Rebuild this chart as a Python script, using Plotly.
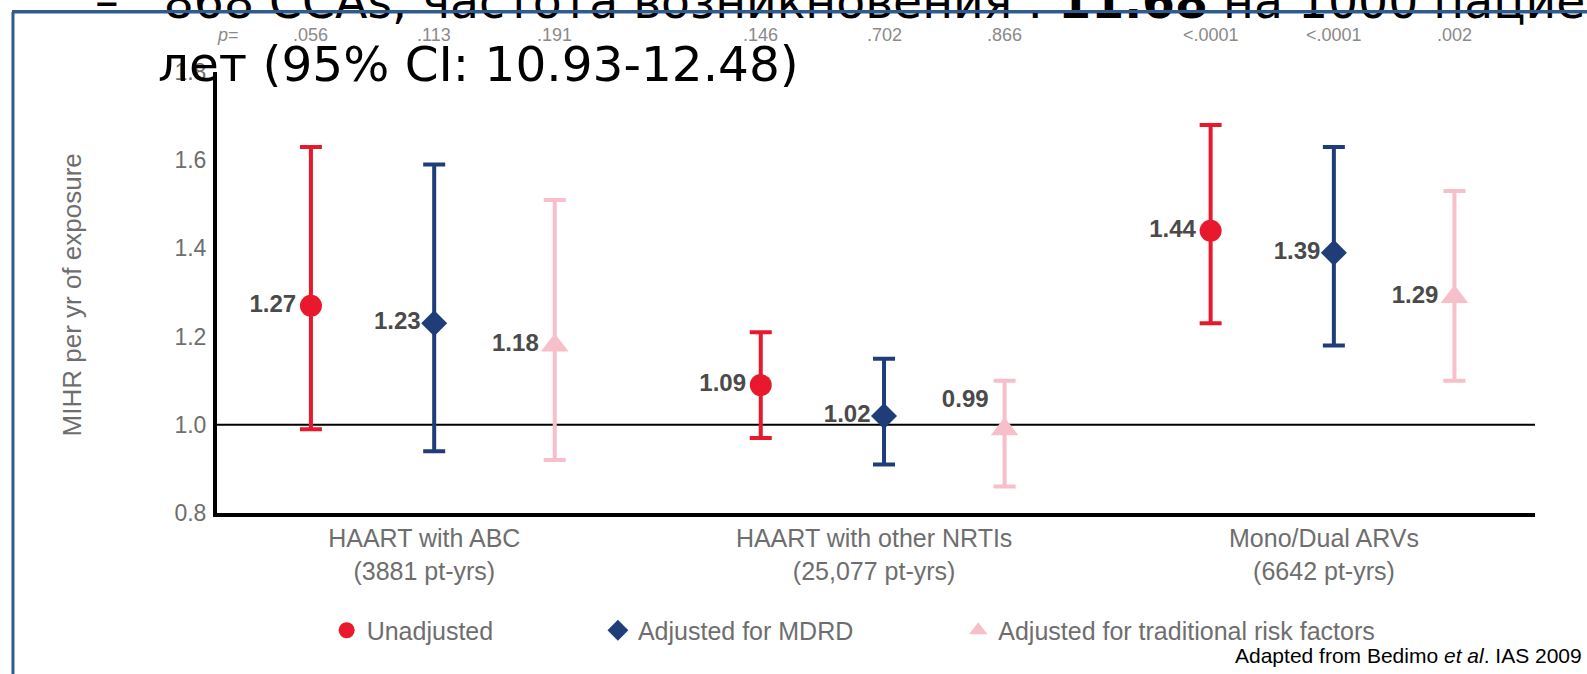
import plotly.graph_objects as go

# ---------------- data ----------------
categories = ["HAART with ABC<br>(3881 pt-yrs)",
              "HAART with other NRTIs<br>(25,077 pt-yrs)",
              "Mono/Dual ARVs<br>(6642 pt-yrs)"]
series_names = ["Unadjusted", "Adjusted for MDRD", "Adjusted for traditional risk factors"]
unadjusted = [1.27, 1.09, 1.44]
unadjusted_hi = [1.63, 1.21, 1.68]
unadjusted_lo = [0.99, 0.97, 1.23]
mdrd = [1.23, 1.02, 1.39]
mdrd_hi = [1.59, 1.15, 1.63]
mdrd_lo = [0.94, 0.91, 1.18]
trad = [1.18, 0.99, 1.29]
trad_hi = [1.51, 1.10, 1.53]
trad_lo = [0.92, 0.86, 1.10]
p_unadjusted = [".056", ".146", "<.0001"]
p_mdrd = [".113", ".702", "<.0001"]
p_trad = [".191", ".866", ".002"]
y_ticks = [0.8, 1.0, 1.2, 1.4, 1.6, 1.8]

# ---------------- style ----------------
RED = "#E8192C"
NAVY = "#1F3D78"
PINK = "#F7BFCA"
LABEL = "#4A4A4A"
GRAY = "#6E6E6E"
PGRAY = "#8A8A8A"
FONT = "Liberation Sans, Arial, sans-serif"
offsets = [-0.274, 0.0, 0.268]
x_base = list(range(len(categories)))

fig = go.Figure()

specs = [
    (series_names[0], unadjusted, unadjusted_hi, unadjusted_lo, RED, "circle", 22, offsets[0], "legend"),
    (series_names[1], mdrd, mdrd_hi, mdrd_lo, NAVY, "diamond", 20, offsets[1], "legend2"),
    (series_names[2], trad, trad_hi, trad_lo, PINK, "triangle-up", 24, offsets[2], "legend3"),
]
for name, vals, hi, lo, col, sym, size, off, leg in specs:
    xs = [b + off for b in x_base]
    tpos = ["middle left"] * len(vals)
    if leg == "legend3":
        tpos[1] = "top left"
    fig.add_trace(go.Scatter(
        x=xs, y=vals, mode="markers+text", name=name, legend=leg, showlegend=True,
        text=[f"{v:.2f}" for v in vals], textposition=tpos,
        textfont=dict(family=FONT, size=24, color=LABEL, weight="bold"),
        marker=dict(color=col, symbol=sym, size=size, line=dict(width=0)),
        error_y=dict(type="data", symmetric=False,
                     array=[h - v for h, v in zip(hi, vals)],
                     arrayminus=[v - l for v, l in zip(vals, lo)],
                     color=col, thickness=4, width=11),
        cliponaxis=False,
    ))

# p-values row
p_sets = [(p_unadjusted, offsets[0]), (p_mdrd, offsets[1]), (p_trad, offsets[2])]
for plist, off in p_sets:
    for b, ptxt in zip(x_base, plist):
        fig.add_annotation(x=b + off, y=1.083, xref="x", yref="paper", text=ptxt,
                           xanchor="center", yanchor="middle", showarrow=False,
                           font=dict(family=FONT, size=18, color=PGRAY))
fig.add_annotation(x=-0.459, y=1.083, xref="x", yref="paper", text="<i>p</i>=",
                   xanchor="center", yanchor="middle", showarrow=False,
                   font=dict(family=FONT, size=18, color=PGRAY))

# reference line at 1.0
fig.add_shape(type="line", xref="paper", yref="y", x0=0, x1=1, y0=1.0, y1=1.0,
              line=dict(color="black", width=2), layer="below")

# slide frame
FRAME = "#2F5B8F"
fig.add_shape(type="line", xref="paper", yref="paper", x0=-0.1548, x1=-0.1548,
              y0=1.1361, y1=-0.40, line=dict(color=FRAME, width=3), layer="above")
fig.add_shape(type="line", xref="paper", yref="paper", x0=-0.1548, x1=1.06,
              y0=1.1361, y1=1.1361, line=dict(color=FRAME, width=3), layer="above")

# slide text (Russian overlay)
RU_FONT = "DejaVu Sans, sans-serif"
fig.add_annotation(x=-0.0941, y=1.093, xref="paper", yref="paper", xanchor="left", yanchor="bottom",
                   text="–\u00a0\u00a0\u00a0868 CCAs, частота возникновения : <b>11.68</b> на 1000 пациентов",
                   showarrow=False, font=dict(family=RU_FONT, size=47.3, color="black"))
fig.add_annotation(x=-0.0463, y=0.950, xref="paper", yref="paper", xanchor="left", yanchor="bottom",
                   text="лет (95% CI: 10.93-12.48)",
                   showarrow=False, font=dict(family=RU_FONT, size=48.5, color="black"))

# top frame edge repeated above the slide text
fig.add_annotation(x=-0.1559, y=1.1361, xref="paper", yref="paper", xanchor="left", yanchor="middle",
                   text="\u00a0", width=1600, height=3, bgcolor=FRAME, borderpad=0, borderwidth=0,
                   showarrow=False, font=dict(size=2, color=FRAME))

# y axis title
fig.add_annotation(x=-0.1093, y=0.4955, xref="paper", yref="paper", xanchor="center", yanchor="middle",
                   text="MIHR per yr of exposure", textangle=-90, showarrow=False,
                   font=dict(family=FONT, size=26, color=GRAY))

# source note
fig.add_annotation(x=1.0372, y=-0.3238, xref="paper", yref="paper", xanchor="right", yanchor="middle",
                   text="Adapted from Bedimo <i>et al</i>. IAS 2009",
                   showarrow=False, font=dict(family=FONT, size=21, color="black"))

legend_common = dict(orientation="h", yanchor="middle", y=-0.2664, xanchor="left",
                     font=dict(family=FONT, size=25, color=GRAY), bgcolor="rgba(0,0,0,0)")
fig.update_layout(
    width=1587, height=674,
    margin=dict(l=217, r=52, t=72, b=161),
    paper_bgcolor="white", plot_bgcolor="white",
    font=dict(family=FONT),
    showlegend=True,
    legend=dict(x=0.0832, **legend_common),
    legend2=dict(x=0.289, **legend_common),
    legend3=dict(x=0.5624, **legend_common),
    xaxis=dict(range=[-0.4828, 2.4471], tickvals=[b - 0.022 for b in x_base], ticktext=categories,
               showgrid=False, zeroline=False, showline=True, linecolor="black", linewidth=4,
               ticks="", tickfont=dict(family=FONT, size=25, color=GRAY)),
    yaxis=dict(range=[0.8, 1.8], tickvals=y_ticks, tickformat=".1f",
               showgrid=False, zeroline=False, showline=True, linecolor="black", linewidth=4,
               ticks="", ticklabelstandoff=2, tickfont=dict(family=FONT, size=23, color=GRAY)),
)

fig.write_html("out.html", config={"displayModeBar": False},
               post_script="document.body.style.margin='0';document.body.style.overflow='hidden';")
